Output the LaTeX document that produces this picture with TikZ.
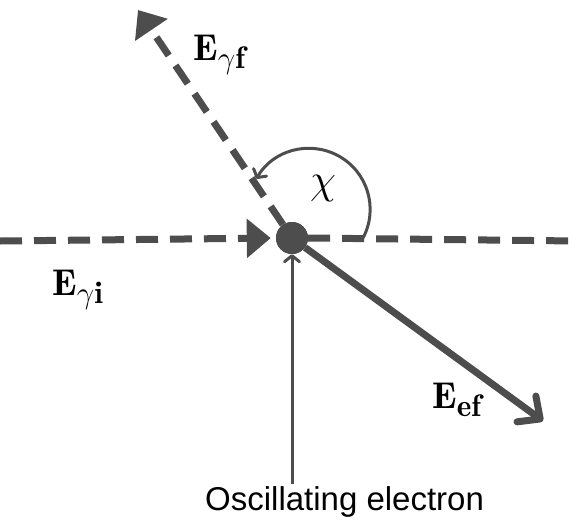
\documentclass[tikz,border=0pt]{standalone}
\usepackage{amsmath}
\usepackage{fontspec}
\setsansfont{Liberation Sans}
\usetikzlibrary{arrows.meta}
\definecolor{vecgray}{RGB}{77,77,77}

\begin{document}
\begin{tikzpicture}[x=1pt,y=-1pt,
                field/.style={vecgray, line width=7pt, dash pattern=on 22pt off 12pt},
                wave/.style={-{Triangle[length=24pt,width=38pt]}},
                pointer/.style={vecgray, line width=3pt, -{Straight Barb[round,length=6pt,width=15pt]}},
                lbl/.style={anchor=base west, inner sep=0pt, font=\fontsize{24.88}{30}\selectfont, scale=1.5}]
                \useasboundingbox (0,0) rectangle (577,522);
                \node (e) [circle, fill=vecgray, minimum size=32pt, inner sep=0pt] at (292,238) {};
                \coordinate (gi) at (0,241);
                \coordinate (gr) at (577,241);
                \coordinate (gf) at (138,10);
                \coordinate (ef) at (543,421);
                \node (txt) [anchor=base west, inner sep=2pt, font=\sffamily\fontsize{33}{40}\selectfont] at (203,510) {Oscillating electron};
                \node (chi) [font=\fontsize{24.88}{30}\selectfont, scale=1.7] at (323,189) {$\chi$};
                \node (Egf) [lbl] at (193,60) {$\mathbf{E}_{\gamma\mathbf{f}}$};
                \node (Egi) [lbl] at (52,295) {$\mathbf{E}_{\gamma\mathbf{i}}$};
                \node (Eef) [lbl] at (432,408) {$\mathbf{E}_{\mathbf{ef}}$};

                \draw [field, wave, shorten >=5pt] (gi) -- (e.west);
                \draw [field] (e.east) -- (gr);
                \draw [field, wave] (e) -- (gf);
                \draw [vecgray, line width=7pt, -{Straight Barb[round,length=17pt,width=32pt]}] (e) -- (ef);
                \draw [pointer] (txt.north -| e) -- (e.south);
                \draw [pointer] (363,238) arc[start angle=28, end angle=-150, radius=61];
                \node [circle, fill=vecgray, minimum size=32pt, inner sep=0pt] at (e) {};
            \end{tikzpicture}
\end{document}
